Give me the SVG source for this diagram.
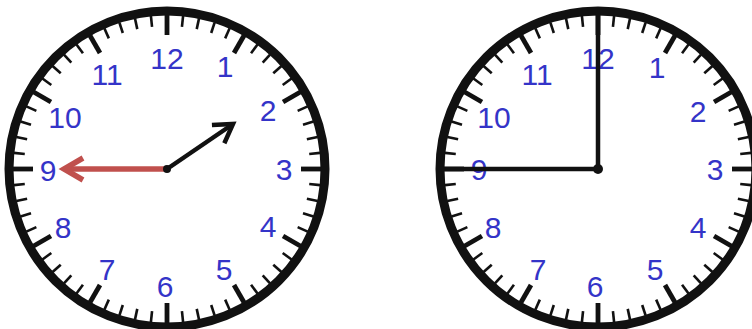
<svg xmlns="http://www.w3.org/2000/svg" xmlns:xlink="http://www.w3.org/1999/xlink" width="752" height="329" viewBox="0 0 752 329">
<style>
.num{font-family:"Liberation Sans",Arial,sans-serif;font-size:30px;fill:#3434c8;text-anchor:middle}
.ring{fill:#fff;stroke:#111;stroke-width:9}
.mt{stroke:#111;stroke-width:2.6}
.ht{stroke:#111;stroke-width:4.8}
.hand{stroke:#111;stroke-width:4.5;fill:none;stroke-linecap:butt}
.red{stroke:#c0504d;stroke-width:5.5;fill:none}
</style>
<defs>
<marker id="blackHead" markerUnits="userSpaceOnUse" markerWidth="40" markerHeight="40" viewBox="-25 -20 40 40" refX="0" refY="0" orient="auto">
<path d="M-18,-11 L0,0 L-18,11" fill="none" stroke="#111" stroke-width="4.5" stroke-linejoin="miter"/>
</marker>
<marker id="redHead" markerUnits="userSpaceOnUse" markerWidth="40" markerHeight="40" viewBox="-25 -20 40 40" refX="0" refY="0" orient="auto">
<path d="M-19,-11 L0,0 L-19,11" fill="none" stroke="#c0504d" stroke-width="5.5" stroke-linejoin="miter"/>
</marker>
<line id="mt" class="mt" x1="0" y1="-154" x2="0" y2="-143"/>
<line id="ht" class="ht" x1="0" y1="-155" x2="0" y2="-134"/>
<g id="face">
<circle class="ring" cx="0" cy="0" r="158"/>
<use xlink:href="#ht" transform="rotate(0)"/><use xlink:href="#mt" transform="rotate(6)"/><use xlink:href="#mt" transform="rotate(12)"/><use xlink:href="#mt" transform="rotate(18)"/><use xlink:href="#mt" transform="rotate(24)"/>
<use xlink:href="#ht" transform="rotate(30)"/><use xlink:href="#mt" transform="rotate(36)"/><use xlink:href="#mt" transform="rotate(42)"/><use xlink:href="#mt" transform="rotate(48)"/><use xlink:href="#mt" transform="rotate(54)"/>
<use xlink:href="#ht" transform="rotate(60)"/><use xlink:href="#mt" transform="rotate(66)"/><use xlink:href="#mt" transform="rotate(72)"/><use xlink:href="#mt" transform="rotate(78)"/><use xlink:href="#mt" transform="rotate(84)"/>
<use xlink:href="#ht" transform="rotate(90)"/><use xlink:href="#mt" transform="rotate(96)"/><use xlink:href="#mt" transform="rotate(102)"/><use xlink:href="#mt" transform="rotate(108)"/><use xlink:href="#mt" transform="rotate(114)"/>
<use xlink:href="#ht" transform="rotate(120)"/><use xlink:href="#mt" transform="rotate(126)"/><use xlink:href="#mt" transform="rotate(132)"/><use xlink:href="#mt" transform="rotate(138)"/><use xlink:href="#mt" transform="rotate(144)"/>
<use xlink:href="#ht" transform="rotate(150)"/><use xlink:href="#mt" transform="rotate(156)"/><use xlink:href="#mt" transform="rotate(162)"/><use xlink:href="#mt" transform="rotate(168)"/><use xlink:href="#mt" transform="rotate(174)"/>
<use xlink:href="#ht" transform="rotate(180)"/><use xlink:href="#mt" transform="rotate(186)"/><use xlink:href="#mt" transform="rotate(192)"/><use xlink:href="#mt" transform="rotate(198)"/><use xlink:href="#mt" transform="rotate(204)"/>
<use xlink:href="#ht" transform="rotate(210)"/><use xlink:href="#mt" transform="rotate(216)"/><use xlink:href="#mt" transform="rotate(222)"/><use xlink:href="#mt" transform="rotate(228)"/><use xlink:href="#mt" transform="rotate(234)"/>
<use xlink:href="#ht" transform="rotate(240)"/><use xlink:href="#mt" transform="rotate(246)"/><use xlink:href="#mt" transform="rotate(252)"/><use xlink:href="#mt" transform="rotate(258)"/><use xlink:href="#mt" transform="rotate(264)"/>
<use xlink:href="#ht" transform="rotate(270)"/><use xlink:href="#mt" transform="rotate(276)"/><use xlink:href="#mt" transform="rotate(282)"/><use xlink:href="#mt" transform="rotate(288)"/><use xlink:href="#mt" transform="rotate(294)"/>
<use xlink:href="#ht" transform="rotate(300)"/><use xlink:href="#mt" transform="rotate(306)"/><use xlink:href="#mt" transform="rotate(312)"/><use xlink:href="#mt" transform="rotate(318)"/><use xlink:href="#mt" transform="rotate(324)"/>
<use xlink:href="#ht" transform="rotate(330)"/><use xlink:href="#mt" transform="rotate(336)"/><use xlink:href="#mt" transform="rotate(342)"/><use xlink:href="#mt" transform="rotate(348)"/><use xlink:href="#mt" transform="rotate(354)"/>
</g>
</defs>
<rect width="752" height="329" fill="#fff"/>
<g id="clock-left" transform="translate(167,169)">
<use xlink:href="#face"/>
<text class="num" x="0" y="-100">12</text>
<text class="num" x="58" y="-92">1</text>
<text class="num" x="101" y="-48">2</text>
<text class="num" x="117" y="11">3</text>
<text class="num" x="101" y="68">4</text>
<text class="num" x="57" y="111">5</text>
<text class="num" x="-2" y="128">6</text>
<text class="num" x="-60" y="111">7</text>
<text class="num" x="-104" y="69">8</text>
<text class="num" x="-119" y="12">9</text>
<text class="num" x="-102" y="-41">10</text>
<text class="num" x="-60" y="-84">11</text>
</g>
<g id="clock-right" transform="translate(598,169)">
<use xlink:href="#face"/>
<text class="num" x="0" y="-100">12</text>
<text class="num" x="59" y="-91">1</text>
<text class="num" x="100" y="-47">2</text>
<text class="num" x="117" y="11">3</text>
<text class="num" x="100" y="69">4</text>
<text class="num" x="57" y="111">5</text>
<text class="num" x="-3" y="128">6</text>
<text class="num" x="-60" y="111">7</text>
<text class="num" x="-105" y="69">8</text>
<text class="num" x="-119" y="11">9</text>
<text class="num" x="-104" y="-41">10</text>
<text class="num" x="-61" y="-84">11</text>
</g>
<g id="hands">
<line class="red" x1="167" y1="169" x2="64" y2="169" marker-end="url(#redHead)"/>
<line class="hand" x1="167" y1="169" x2="233" y2="124" stroke-width="3.5" marker-end="url(#blackHead)"/>
<circle cx="167" cy="169" r="4" fill="#111"/>
<line class="hand" x1="598" y1="169" x2="598" y2="12"/>
<line class="hand" x1="598" y1="169" x2="440" y2="169"/>
<circle cx="598" cy="169" r="5" fill="#111"/>
</g>
</svg>
